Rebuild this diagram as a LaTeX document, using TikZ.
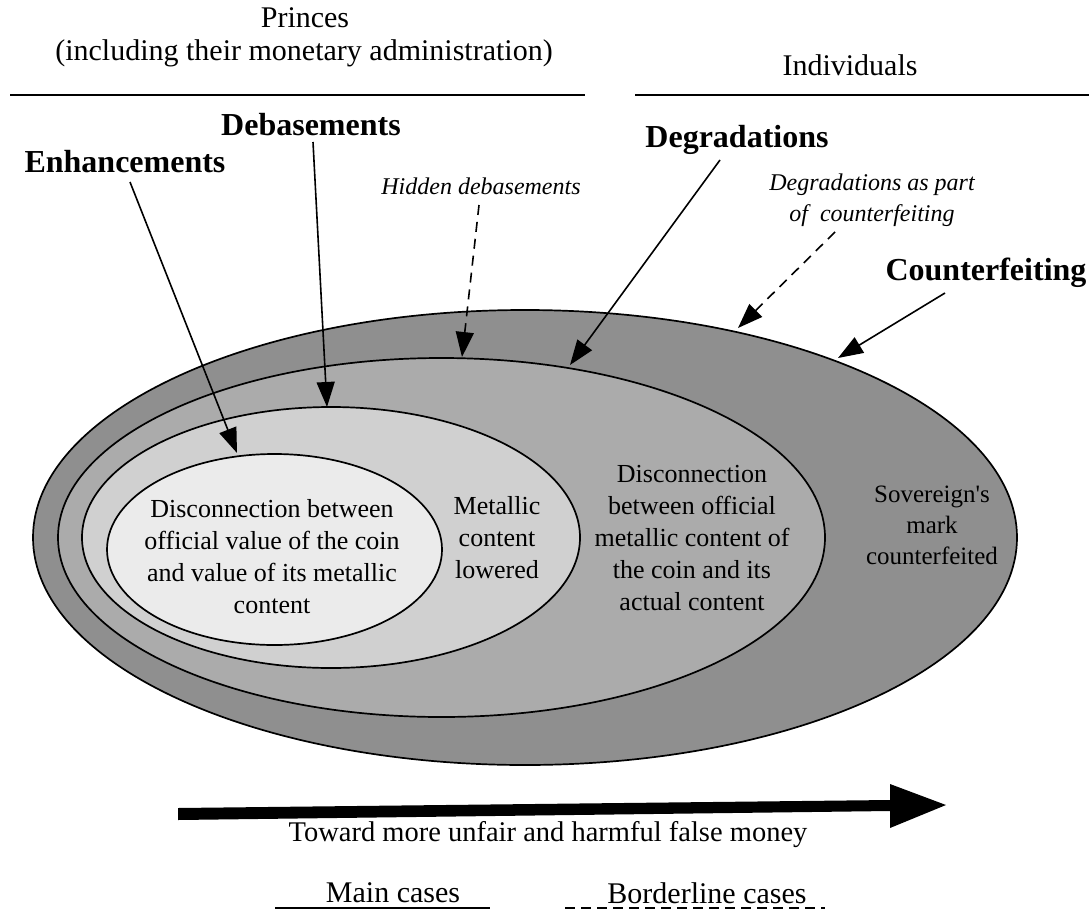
\documentclass[tikz,border=0pt]{standalone}
\usepackage{fontspec}
\setmainfont{Liberation Serif}
\newfontfamily\rawserif[Ligatures=TeXOff]{Liberation Serif}
\usetikzlibrary{arrows.meta}
\definecolor{gA}{RGB}{143,143,143}
\definecolor{gB}{RGB}{171,171,171}
\definecolor{gC}{RGB}{208,208,208}
\definecolor{gD}{RGB}{235,235,235}
\begin{document}
\begin{tikzpicture}[x=1pt,y=-1pt,
  ell/.style={draw=black, line width=1.7pt},
  ptr/.style={line width=1.6pt, -{Triangle[length=25pt,width=18pt]}},
  dptr/.style={ptr, dash pattern=on 10pt off 7pt},
  rule/.style={line width=1.8pt},
  body/.style={font=\fontsize{26}{32}\selectfont, align=center, inner sep=0pt},
  head/.style={font=\fontsize{30}{36}\selectfont, align=center, inner sep=0pt},
  boldlbl/.style={font=\fontsize{32}{36}\selectfont\bfseries, inner sep=0pt},
  itallbl/.style={font=\fontsize{24}{31}\selectfont\itshape, align=center, inner sep=0pt},
]
\useasboundingbox (0,0) rectangle (1089,910);

% nested ellipses
\filldraw[ell, fill=gA] (525,537.5) ellipse [x radius=492, y radius=227.5];
\filldraw[ell, fill=gB] (441.5,537.5) ellipse [x radius=383.5, y radius=179.5];
\filldraw[ell, fill=gC] (331,537.5) ellipse [x radius=249, y radius=130.5];
\filldraw[ell, fill=gD] (274.5,549.5) ellipse [x radius=167.5, y radius=95.5];

% texts inside
\node[body] (t1) at (272,557) {Disconnection between\\official value of the coin\\and value of its metallic\\content};
\node[body] (t2) at (497,538) {Metallic\\content\\lowered};
\node[body] (t3) at (692,538) {Disconnection\\between official\\metallic content of\\the coin and its\\actual content};
\node[body, font=\fontsize{25}{31}\selectfont] (t4) at (932,525) {Sovereign{\rawserif'}s\\mark\\counterfeited};

% headings
\node[head] (princes) at (305,18) {Princes};
\node[head] (incl) at (304,53) {(including their monetary administration)};
\node[head] (indiv) at (850,65) {Individuals};
\coordinate (l1a) at (10,95);
\coordinate (l1b) at (585,95);
\coordinate (l2a) at (635,95);
\coordinate (l2b) at (1089,95);
\draw[rule] (l1a) -- (l1b);
\draw[rule] (l2a) -- (l2b);

% labels
\node[boldlbl] (enh) at (125,162) {Enhancements};
\node[boldlbl] (deb) at (311,125) {Debasements};
\node[boldlbl] (deg) at (737,140) {Degradations};
\node[boldlbl] (cnt) at (986,273) {Counterfeiting};
\node[itallbl] (hid) at (481,186) {Hidden debasements};
\node[itallbl] (dpc) at (872,200) {Degradations as part\\of\ \ counterfeiting};

% arrow ends
\coordinate (enhS) at (130,182);
\coordinate (enhE) at (237,453);
\coordinate (debS) at (313,142);
\coordinate (debE) at (327,407);
\coordinate (hidS) at (479,205);
\coordinate (hidE) at (462,357);
\coordinate (degS) at (720,160);
\coordinate (degE) at (570,365);
\coordinate (dpcS) at (835,232);
\coordinate (dpcE) at (738,328);
\coordinate (cntS) at (945,293);
\coordinate (cntE) at (838,358);

\draw[ptr] (enhS) -- (enhE);
\draw[ptr] (debS) -- (debE);
\draw[dptr] (hidS) -- (hidE);
\draw[ptr] (degS) -- (degE);
\draw[dptr] (dpcS) -- (dpcE);
\draw[ptr] (cntS) -- (cntE);

% big arrow
\fill[black] (178,808) -- (890,800) -- (890,784) -- (946,805) -- (890,828) -- (890,811) -- (178,820) -- cycle;
\node[body, font=\fontsize{28.5}{34}\selectfont] (toward) at (548,835) {Toward more unfair and harmful false money};

% legend
\node[head] (main) at (393,893) {Main cases};
\node[head] (border) at (707,893) {Borderline cases};
\coordinate (m1) at (275,908);
\coordinate (m2) at (490,908);
\coordinate (b1) at (565,908);
\coordinate (b2) at (825,908);
\draw[rule] (m1) -- (m2);
\draw[rule, dash pattern=on 10pt off 6pt] (b1) -- (b2);
\end{tikzpicture}
\end{document}
